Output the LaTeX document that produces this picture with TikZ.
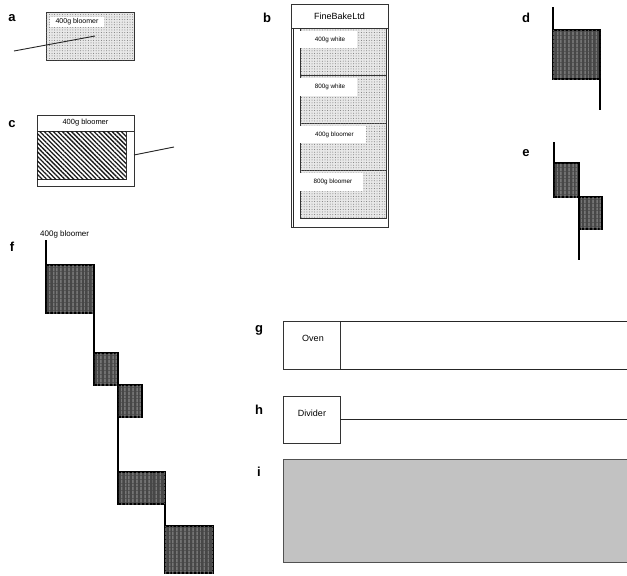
\documentclass[tikz,border=0pt]{standalone}
\usepackage{fontspec}
\setmainfont{Liberation Sans}
\usetikzlibrary{patterns,patterns.meta}

\begin{document}
\begin{tikzpicture}[x=1pt,y=-1pt,
  panel/.style={font=\bfseries\fontsize{13}{13}\selectfont, inner sep=0pt},
  box/.style={draw=black!80, line width=0.8pt, inner sep=0pt, outer sep=0pt, anchor=north west},
  dotfill/.style={fill=black!9, postaction={pattern={Dots[distance=2.6pt, radius=0.5pt]}, pattern color=black!55}},
  hatchfill/.style={fill=white, postaction={pattern={Lines[angle=-45, distance=3.2pt, line width=1.3pt]}, pattern color=black!90}},
  darkbox/.style={fill=black!72, draw=black, line width=2.6pt, inner sep=0pt, outer sep=0pt, anchor=north west,
    postaction={pattern={Lines[angle=90, distance=4pt, line width=0.4pt]}, pattern color=black!45}},
  tag/.style={fill=white, inner sep=0pt, outer sep=0pt, anchor=north west, font=\fontsize{6.3}{6.3}\selectfont},
  wire/.style={draw=black!85, line width=0.9pt},
  stem/.style={draw=black, line width=2pt},
]
\useasboundingbox (0,0) rectangle (627,576);

% ---------- panel labels
\node[panel] (la) at (12,18) {a};
\node[panel] (lb) at (267,18) {b};
\node[panel] (lc) at (12,124) {c};
\node[panel] (ld) at (526,18) {d};
\node[panel] (le) at (526,153) {e};
\node[panel] (lf) at (12,247) {f};
\node[panel] (lg) at (259,330) {g};
\node[panel] (lh) at (259,410) {h};
\node[panel] (li) at (259,472) {i};

% ---------- a: dotted block with its tag and a link
\node[box, dotfill, minimum width=88, minimum height=48] (abox) at (46,12) {};
\node[tag, minimum width=54, minimum height=10, font=\fontsize{7}{7}\selectfont] (atag) at (50,17) {400g bloomer};
\coordinate (aend) at (14,51);
\coordinate (atip) at (95,36);
\draw[wire] (aend) -- (atip);

% ---------- c: framed hatched block
\node[box, minimum width=97, minimum height=71] (cbox) at (37,115) {};
\node[box, minimum width=97, minimum height=16, font=\fontsize{7.5}{7.5}\selectfont] (chead) at (37,115) {400g bloomer};
\node[box, hatchfill, minimum width=89, minimum height=48] (chatch) at (37,131) {};
\coordinate (cend) at (174,147);
\draw[wire] (cbox.east |- 0,155) -- (cend);

% ---------- b: FineBakeLtd column
\node[box, minimum width=97, minimum height=223] (bbox) at (291,4) {};
\node[box, minimum width=97, minimum height=24, font=\fontsize{9}{9}\selectfont] (bhead) at (291,4) {FineBakeLtd};
\draw[wire, line width=0.6pt] (bhead.south west) ++(2,0) -- ++(0,199);
\node[box, dotfill, minimum width=86, minimum height=47] (b1) at (300,28) {};
\node[box, dotfill, minimum width=86, minimum height=48] (b2) at (300,75) {};
\node[box, dotfill, minimum width=86, minimum height=47] (b3) at (300,123) {};
\node[box, dotfill, minimum width=86, minimum height=48] (b4) at (300,170) {};
\node[tag, minimum width=57, minimum height=17] (t1) at (300,31) {\hspace{3pt}400g white};
\node[tag, minimum width=57, minimum height=18] (t2) at (300,78) {\hspace{3pt}800g white};
\node[tag, minimum width=66, minimum height=17] (t3) at (300,126) {\hspace{3pt}400g bloomer};
\node[tag, minimum width=63, minimum height=18] (t4) at (300,173) {\hspace{3pt}800g bloomer};

% ---------- d
\node[darkbox, minimum width=47, minimum height=49] (d1) at (553,30) {};
\coordinate (dtop) at (553,7);
\coordinate (dbot) at (600,110);
\draw[stem] (dtop) -- (d1.north west);
\draw[stem] (d1.south east) -- (dbot);

% ---------- e
\node[darkbox, minimum width=25, minimum height=34] (e1) at (554,163) {};
\node[darkbox, minimum width=23, minimum height=32] (e2) at (579,197) {};
\coordinate (etop) at (554,142);
\coordinate (ebot) at (579,260);
\draw[stem] (etop) -- (e1.north west);
\draw[stem] (e2.south west) -- (ebot);

% ---------- f: staircase for 400g bloomer
\node[anchor=south west, inner sep=0pt, font=\fontsize{8}{8}\selectfont] (ftag) at (40,238) {400g bloomer};
\node[darkbox, minimum width=48, minimum height=48] (f1) at (46,265) {};
\node[darkbox, minimum width=24, minimum height=32] (f2) at (94,353) {};
\node[darkbox, minimum width=24, minimum height=32] (f3) at (118,385) {};
\node[darkbox, minimum width=47, minimum height=32] (f4) at (118,472) {};
\node[darkbox, minimum width=48, minimum height=47] (f5) at (165,526) {};
\coordinate (ftop) at (46,240);
\draw[stem] (ftop) -- (f1.north west);
\draw[stem] (f1.south east) -- (f2.north west);
\draw[stem] (f3.south west) -- (f4.north west);
\draw[stem] (f4.south east) -- (f5.north west);

% ---------- g: Oven
\node[box, minimum width=57, minimum height=48] (oven) at (283,321) {};
\node[font=\fontsize{9}{9}\selectfont, inner sep=0pt] (ovenlbl) at (313,338) {Oven};
\coordinate (gtop) at (627,321);
\coordinate (gbot) at (627,369);
\draw[wire] (oven.north east) -- (gtop);
\draw[wire] (oven.south east) -- (gbot);

% ---------- h: Divider
\node[box, minimum width=57, minimum height=47] (divider) at (283,396) {};
\node[font=\fontsize{9}{9}\selectfont, inner sep=0pt] (dividerlbl) at (312,413) {Divider};
\coordinate (hend) at (627,419);
\draw[wire] (divider.east |- 0,419) -- (hend);

% ---------- i: shaded band
\node[box, fill=black!22, draw=black!70, minimum width=350, minimum height=103,
  postaction={pattern={Dots[distance=2pt, radius=0.35pt]}, pattern color=black!45}] (band) at (283,459) {};
\end{tikzpicture}
\end{document}
